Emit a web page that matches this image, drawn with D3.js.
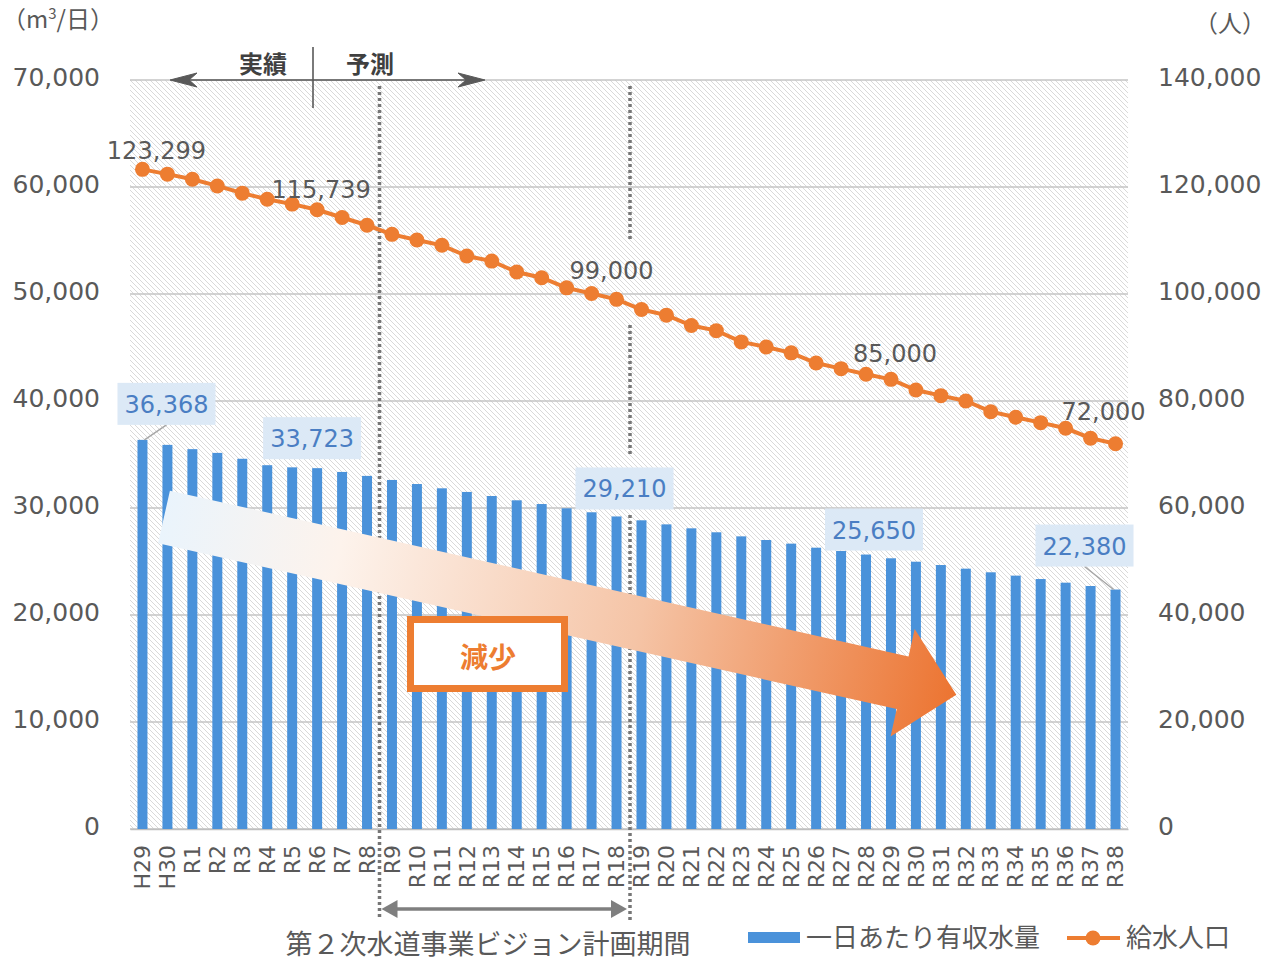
<!DOCTYPE html>
<html>
<head>
<meta charset="utf-8">
<script src="https://cdn.jsdelivr.net/npm/d3@7"></script>
<style>
  body { margin: 0; background: #fff; }
  svg { display: block; }
</style>
</head>
<body>
<svg id="chart"></svg>
<script>
const width = 1282;
const height = 964;

// categories: H29, H30, R1..R38
const years = ["H29", "H30"].concat(d3.range(1, 39).map(d => "R" + d));

// 一日あたり有収水量 (m3/日)
const water = [36368, 35900, 35500, 35150, 34600, 34000, 33800, 33723, 33370, 33000,
    32620, 32240, 31840, 31500, 31120, 30720, 30370, 29970, 29600, 29210,
    28850, 28470, 28100, 27730, 27350, 27010, 26670, 26290, 25980, 25650,
    25300, 24980, 24670, 24330, 23990, 23680, 23360, 23020, 22710, 22380];

// 給水人口 (人)
const population = [123299, 122400, 121450, 120200, 118850, 117700, 116800, 115739, 114300, 112850,
    111150, 110100, 109100, 107100, 106150, 104100, 103050, 101150, 100100, 99000,
    97100, 96050, 94100, 93150, 91050, 90100, 89000, 87100, 86050, 85000,
    84050, 82050, 81000, 80000, 78000, 76950, 75950, 74900, 73050, 72000];

const leftTicks = [0, 10000, 20000, 30000, 40000, 50000, 60000, 70000];
const rightTicks = [0, 20000, 40000, 60000, 80000, 100000, 120000, 140000];

const waterLabelYears = ["H29", "R6", "R18", "R28", "R38"];
const popLabelYears = ["H29", "R6", "R18", "R28", "R38"];

const barColor = "#4a92da";
const lineColor = "#ed7d31";
const textColor = "#595959";
const numFont = "'DejaVu Sans', Verdana, sans-serif";
const jpFont = "'Noto Sans CJK JP', 'Noto Sans', sans-serif";

const plot = { left: 130, right: 1128, top: 80, bottom: 829 };

const x = d3.scaleBand().domain(years).range([plot.left, plot.right]);
const yL = d3.scaleLinear().domain([0, 70000]).range([plot.bottom, plot.top]);
const yR = d3.scaleLinear().domain([0, 140000]).range([plot.bottom, plot.top]);
const cx = d => x(d) + x.bandwidth() / 2;
const fmt = d3.format(",");

const svg = d3.select("#chart").attr("width", width).attr("height", height);
const defs = svg.append("defs");

// hatch background
const pat = defs.append("pattern")
    .attr("id", "hatch")
    .attr("patternUnits", "userSpaceOnUse")
    .attr("width", 5).attr("height", 5);
pat.append("path")
    .attr("d", "M0,0L5,5M-1,4L1,6M4,-1L6,1")
    .attr("stroke", "#d9d9d9")
    .attr("stroke-width", 1);

const grad = defs.append("linearGradient")
    .attr("id", "arrowGrad")
    .attr("gradientUnits", "userSpaceOnUse")
    .attr("x1", 0).attr("x2", 812).attr("y1", 0).attr("y2", 0);
[[0, "#eaf4fc"], [0.22, "#fdf3ec"], [0.6, "#f5c4a6"], [1, "#ec7431"]].forEach(s => {
    grad.append("stop").attr("offset", s[0]).attr("stop-color", s[1]);
});

svg.append("rect")
    .attr("x", plot.left).attr("y", plot.top)
    .attr("width", plot.right - plot.left).attr("height", plot.bottom - plot.top)
    .attr("fill", "url(#hatch)");

// gridlines
svg.append("g").selectAll("line").data(leftTicks).enter()
    .append("line")
    .attr("x1", plot.left).attr("x2", plot.right)
    .attr("y1", d => yL(d)).attr("y2", d => yL(d))
    .attr("stroke", "#c4c4c4")
    .attr("stroke-width", 1.3);

// left axis
const axL = svg.append("g")
    .attr("transform", "translate(" + plot.left + ",0)")
    .call(d3.axisLeft(yL).tickValues(leftTicks).tickSize(0).tickPadding(30).tickFormat(fmt));
axL.select(".domain").remove();
axL.selectAll("text")
    .attr("dy", "0.2em")
    .attr("fill", textColor)
    .style("font-family", numFont)
    .style("font-size", "25px");

// right axis
const axR = svg.append("g")
    .attr("transform", "translate(" + plot.right + ",0)")
    .call(d3.axisRight(yR).tickValues(rightTicks).tickSize(0).tickPadding(30).tickFormat(fmt));
axR.select(".domain").remove();
axR.selectAll("text")
    .attr("dy", "0.2em")
    .attr("fill", textColor)
    .style("font-family", numFont)
    .style("font-size", "25px");

// bottom axis
const axB = svg.append("g")
    .attr("transform", "translate(0," + plot.bottom + ")")
    .call(d3.axisBottom(x).tickSize(0));
axB.select(".domain").attr("stroke", "#bfbfbf").attr("stroke-width", 1.5);
axB.selectAll("text")
    .attr("transform", "rotate(-90)")
    .attr("x", -16).attr("y", 0)
    .attr("dy", "0.35em")
    .attr("text-anchor", "end")
    .attr("fill", textColor)
    .style("font-family", numFont)
    .style("font-size", "22px");

// bars
const barW = x.bandwidth() * 0.4;
svg.append("g").selectAll("rect").data(years).enter()
    .append("rect")
    .attr("x", d => cx(d) - barW / 2)
    .attr("y", (d, i) => yL(water[i]))
    .attr("width", barW)
    .attr("height", (d, i) => plot.bottom - yL(water[i]))
    .attr("fill", barColor);

// vision period dotted lines
const xStart = x("R9");
const xEnd = x("R19");
const dotted = svg.append("g")
    .attr("stroke", "#767676")
    .attr("stroke-width", 3.5)
    .attr("stroke-dasharray", "3,3");
dotted.append("line").attr("x1", xStart).attr("x2", xStart).attr("y1", 86).attr("y2", 920);
[[86, 242], [325, 455], [515, 920]].forEach(s => {
    dotted.append("line").attr("x1", xEnd + 1).attr("x2", xEnd + 1).attr("y1", s[0]).attr("y2", s[1]);
});

// big decreasing arrow
const arrowLen = 812, bodyHalf = 27, headHalf = 55, headLen = 55;
const bigArrow = svg.append("g")
    .attr("transform", "translate(164,517) rotate(12.65)");
bigArrow.append("path")
    .attr("d", "M0," + (-bodyHalf) + "L" + (arrowLen - headLen) + "," + (-bodyHalf) +
        "L" + (arrowLen - headLen) + "," + (-headHalf) + "L" + arrowLen + ",0" +
        "L" + (arrowLen - headLen) + "," + headHalf + "L" + (arrowLen - headLen) + "," + bodyHalf +
        "L0," + bodyHalf + "Z")
    .attr("fill", "url(#arrowGrad)");

// 減少 box
svg.append("rect")
    .attr("x", 410.5).attr("y", 619.5)
    .attr("width", 154).attr("height", 69)
    .attr("fill", "#fff")
    .attr("stroke", lineColor)
    .attr("stroke-width", 7);
svg.append("text")
    .attr("x", 488).attr("y", 668)
    .attr("text-anchor", "middle")
    .attr("fill", lineColor)
    .style("font-family", jpFont)
    .style("font-weight", "bold")
    .style("font-size", "28px")
    .text("減少");

// population line
const line = d3.line().x(d => cx(d[0])).y(d => yR(d[1]));
const popData = years.map((d, i) => [d, population[i]]);
svg.append("path")
    .datum(popData)
    .attr("d", line)
    .attr("fill", "none")
    .attr("stroke", lineColor)
    .attr("stroke-width", 4);
svg.append("g").selectAll("circle").data(popData).enter()
    .append("circle")
    .attr("cx", d => cx(d[0]))
    .attr("cy", d => yR(d[1]))
    .attr("r", 7.5)
    .attr("fill", lineColor);

// population labels
const popOffsets = { "H29": [14, -10], "R6": [4, -12], "R18": [-5, -20], "R28": [29, -12], "R38": [-12, -24] };
svg.append("g").selectAll("text").data(popLabelYears).enter()
    .append("text")
    .attr("x", d => cx(d) + popOffsets[d][0])
    .attr("y", d => yR(population[years.indexOf(d)]) + popOffsets[d][1])
    .attr("text-anchor", "middle")
    .attr("fill", textColor)
    .style("font-family", numFont)
    .style("font-size", "24px")
    .text(d => fmt(population[years.indexOf(d)]));

// water labels with boxes
const waterOffsets = { "H29": [24, -36], "R6": [-5, -30], "R18": [8, -28], "R28": [8, -25], "R38": [-31, -44] };
const leaders = svg.append("g").attr("stroke", "#a6a6a6").attr("stroke-width", 1.5);
leaders.append("line")
    .attr("x1", cx("H29") + 2).attr("y1", yL(water[0]))
    .attr("x2", cx("H29") + waterOffsets["H29"][0]).attr("y2", yL(water[0]) + waterOffsets["H29"][1] + 21);
leaders.append("line")
    .attr("x1", cx("R38") - 2).attr("y1", yL(water[39]))
    .attr("x2", cx("R38") + waterOffsets["R38"][0]).attr("y2", yL(water[39]) + waterOffsets["R38"][1] + 21);

const wl = svg.append("g").selectAll("g").data(waterLabelYears).enter()
    .append("g")
    .attr("transform", d => "translate(" + (cx(d) + waterOffsets[d][0]) + "," +
        (yL(water[years.indexOf(d)]) + waterOffsets[d][1]) + ")");
wl.append("rect")
    .attr("x", -49).attr("y", -21)
    .attr("width", 98).attr("height", 42)
    .attr("fill", "#dce9f6");
wl.append("text")
    .attr("y", 9)
    .attr("text-anchor", "middle")
    .attr("fill", "#4a7ec3")
    .style("font-family", numFont)
    .style("font-size", "24px")
    .text(d => fmt(water[years.indexOf(d)]));

// 実績 / 予測 arrow on top
const topG = svg.append("g").attr("stroke", "#595959").attr("fill", "#595959");
topG.append("line").attr("x1", 172).attr("x2", 483).attr("y1", 80).attr("y2", 80).attr("stroke-width", 1.6);
topG.append("path").attr("d", "M170,80L197,73L189,80L197,87Z").attr("stroke-width", 1);
topG.append("path").attr("d", "M485,80L458,73L466,80L458,87Z").attr("stroke-width", 1);
topG.append("line").attr("x1", 313).attr("x2", 313).attr("y1", 47).attr("y2", 108).attr("stroke-width", 1.6);
svg.append("text").attr("x", 263).attr("y", 73).attr("text-anchor", "middle")
    .attr("fill", "#404040").style("font-family", jpFont).style("font-weight", "bold")
    .style("font-size", "24px").text("実績");
svg.append("text").attr("x", 370).attr("y", 73).attr("text-anchor", "middle")
    .attr("fill", "#404040").style("font-family", jpFont).style("font-weight", "bold")
    .style("font-size", "24px").text("予測");

// vision period arrow at bottom
const botG = svg.append("g").attr("fill", "#7f7f7f").attr("stroke", "#7f7f7f");
botG.append("line").attr("x1", xStart + 10).attr("x2", xEnd - 10).attr("y1", 909).attr("y2", 909).attr("stroke-width", 3.5);
botG.append("path").attr("d", "M" + (xStart + 2) + ",909l16,-9l0,18Z").attr("stroke-width", 0);
botG.append("path").attr("d", "M" + (xEnd - 2) + ",909l-16,-9l0,18Z").attr("stroke-width", 0);
svg.append("text")
    .attr("x", 488).attr("y", 954)
    .attr("text-anchor", "middle")
    .attr("fill", textColor)
    .style("font-family", jpFont)
    .style("font-size", "27px")
    .text("第２次水道事業ビジョン計画期間");

// unit labels
const unitL = svg.append("text")
    .attr("x", 2).attr("y", 28)
    .attr("fill", textColor)
    .style("font-family", jpFont)
    .style("font-size", "24px");
unitL.append("tspan").text("（m");
unitL.append("tspan").attr("dy", -9).style("font-size", "15px").text("3");
unitL.append("tspan").attr("dy", 9).text("/日）");
svg.append("text")
    .attr("x", 1266).attr("y", 32)
    .attr("text-anchor", "end")
    .attr("fill", textColor)
    .style("font-family", jpFont)
    .style("font-size", "24px")
    .text("（人）");

// legend
const legend = svg.append("g");
legend.append("rect").attr("x", 748).attr("y", 932).attr("width", 52).attr("height", 11).attr("fill", barColor);
legend.append("text").attr("x", 806).attr("y", 947).attr("fill", textColor)
    .style("font-family", jpFont).style("font-size", "26px").text("一日あたり有収水量");
legend.append("line").attr("x1", 1067).attr("x2", 1120).attr("y1", 938).attr("y2", 938)
    .attr("stroke", lineColor).attr("stroke-width", 4);
legend.append("circle").attr("cx", 1093).attr("cy", 938).attr("r", 7.5).attr("fill", lineColor);
legend.append("text").attr("x", 1126).attr("y", 947).attr("fill", textColor)
    .style("font-family", jpFont).style("font-size", "26px").text("給水人口");
</script>
</body>
</html>
